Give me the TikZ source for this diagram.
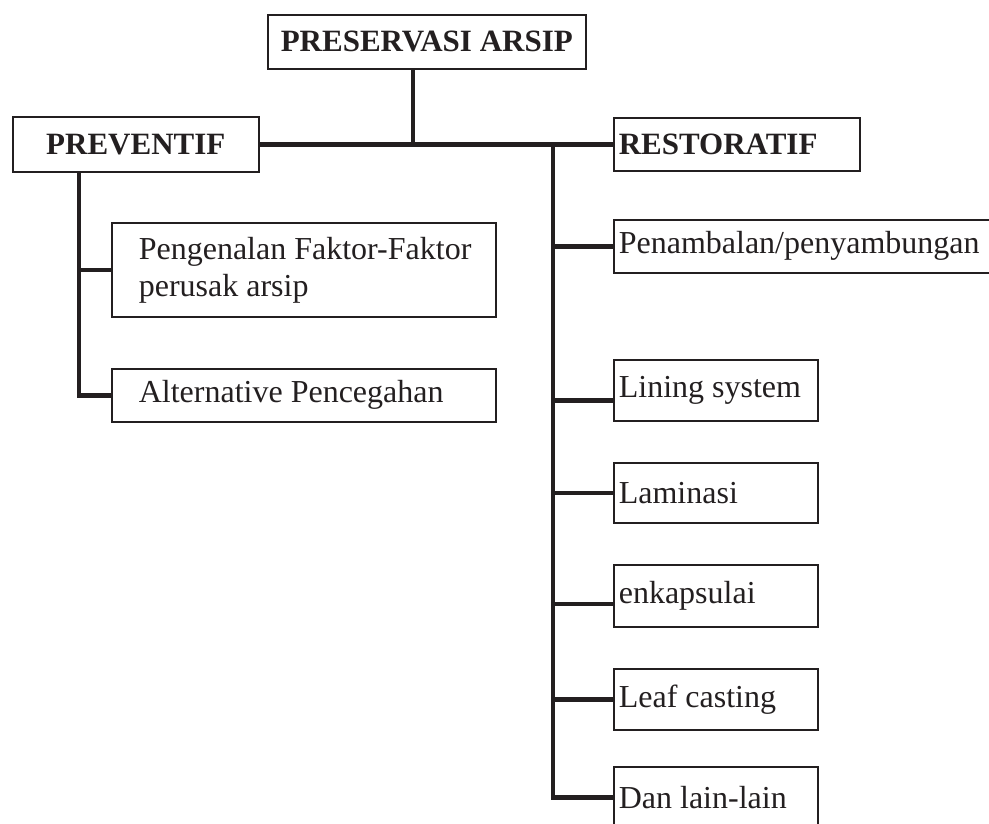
\documentclass[tikz,border=0pt]{standalone}
\usepackage{fontspec}
\setmainfont{Liberation Serif}
\usetikzlibrary{positioning}
\definecolor{inkblack}{HTML}{231F20}
\tikzset{
  trunk/.style={line width=4.5pt, draw=inkblack},
  headbox/.style={draw=inkblack, line width=1.6pt, anchor=north west, inner xsep=5pt, inner ysep=0pt, font=\fontsize{31}{37}\bfseries\selectfont, text=inkblack},
  itembox/.style={draw=inkblack, line width=1.6pt, anchor=north west, inner xsep=5pt, inner ysep=0pt, align=flush left, font=\fontsize{32}{37}\selectfont, text=inkblack}
}

\begin{document}
\begin{tikzpicture}[x=1pt, y=-1pt]
  \useasboundingbox (0,0) rectangle (989,823);
  \clip (0,0) rectangle (989,823);
  % heads
  \node[headbox, minimum width=318pt, minimum height=54pt] (arsip) at (267,14) {PRESERVASI ARSIP};
  \node[headbox, minimum width=246pt, minimum height=55pt] (prev) at (12,116) {PREVENTIF};
  \node[headbox, align=flush left, text width=236pt, minimum height=53pt] (rest) at (613,117) {RESTORATIF};
  % preventif items
  \node[itembox, inner xsep=27pt, text width=330pt, minimum height=94pt] (faktor) at (111,222) {\mbox{Pengenalan Faktor-Faktor}\\perusak arsip};
  \node[itembox, inner xsep=27pt, text width=330pt, minimum height=53pt] (cegah) at (111,368) {Alternative Pencegahan};
  % restoratif items
  \node[itembox, text width=400pt, minimum height=53pt] (tambal) at (613,219) {Penambalan/penyambungan};
  \node[itembox, text width=194pt, minimum height=61pt] (lining) at (613,359) {Lining system};
  \node[itembox, text width=194pt, minimum height=60pt] (lamin) at (613,462) {Laminasi};
  \node[itembox, text width=194pt, minimum height=62pt] (enkap) at (613,564) {enkapsulai};
  \node[itembox, text width=194pt, minimum height=61pt] (leaf) at (613,668) {Leaf casting};
  \node[itembox, text width=194pt, minimum height=61pt] (lain) at (613,766) {Dan lain-lain};

  \coordinate (join) at (413,143);
  \coordinate (ltop) at (79,171);
  \coordinate (rtop) at (553,143);

  \draw[trunk] (join |- arsip.south) -- (join);
  \draw[trunk] (prev.east) -- (rest.west);
  % left side
  \draw[trunk] (ltop) |- (cegah.west);
  \draw[trunk] (ltop |- faktor.west) -- (faktor.west);
  % right side
  \draw[trunk] (rtop) |- (lain.west);
  \draw[trunk] (rtop |- tambal.west) -- (tambal.west);
  \draw[trunk] ([yshift=-10pt]lining.west -| rtop) -- ([yshift=-10pt]lining.west);
  \draw[trunk] (rtop |- lamin.west) -- (lamin.west);
  \draw[trunk] ([yshift=-8pt]enkap.west -| rtop) -- ([yshift=-8pt]enkap.west);
  \draw[trunk] (rtop |- leaf.west) -- (leaf.west);
\end{tikzpicture}
\end{document}
